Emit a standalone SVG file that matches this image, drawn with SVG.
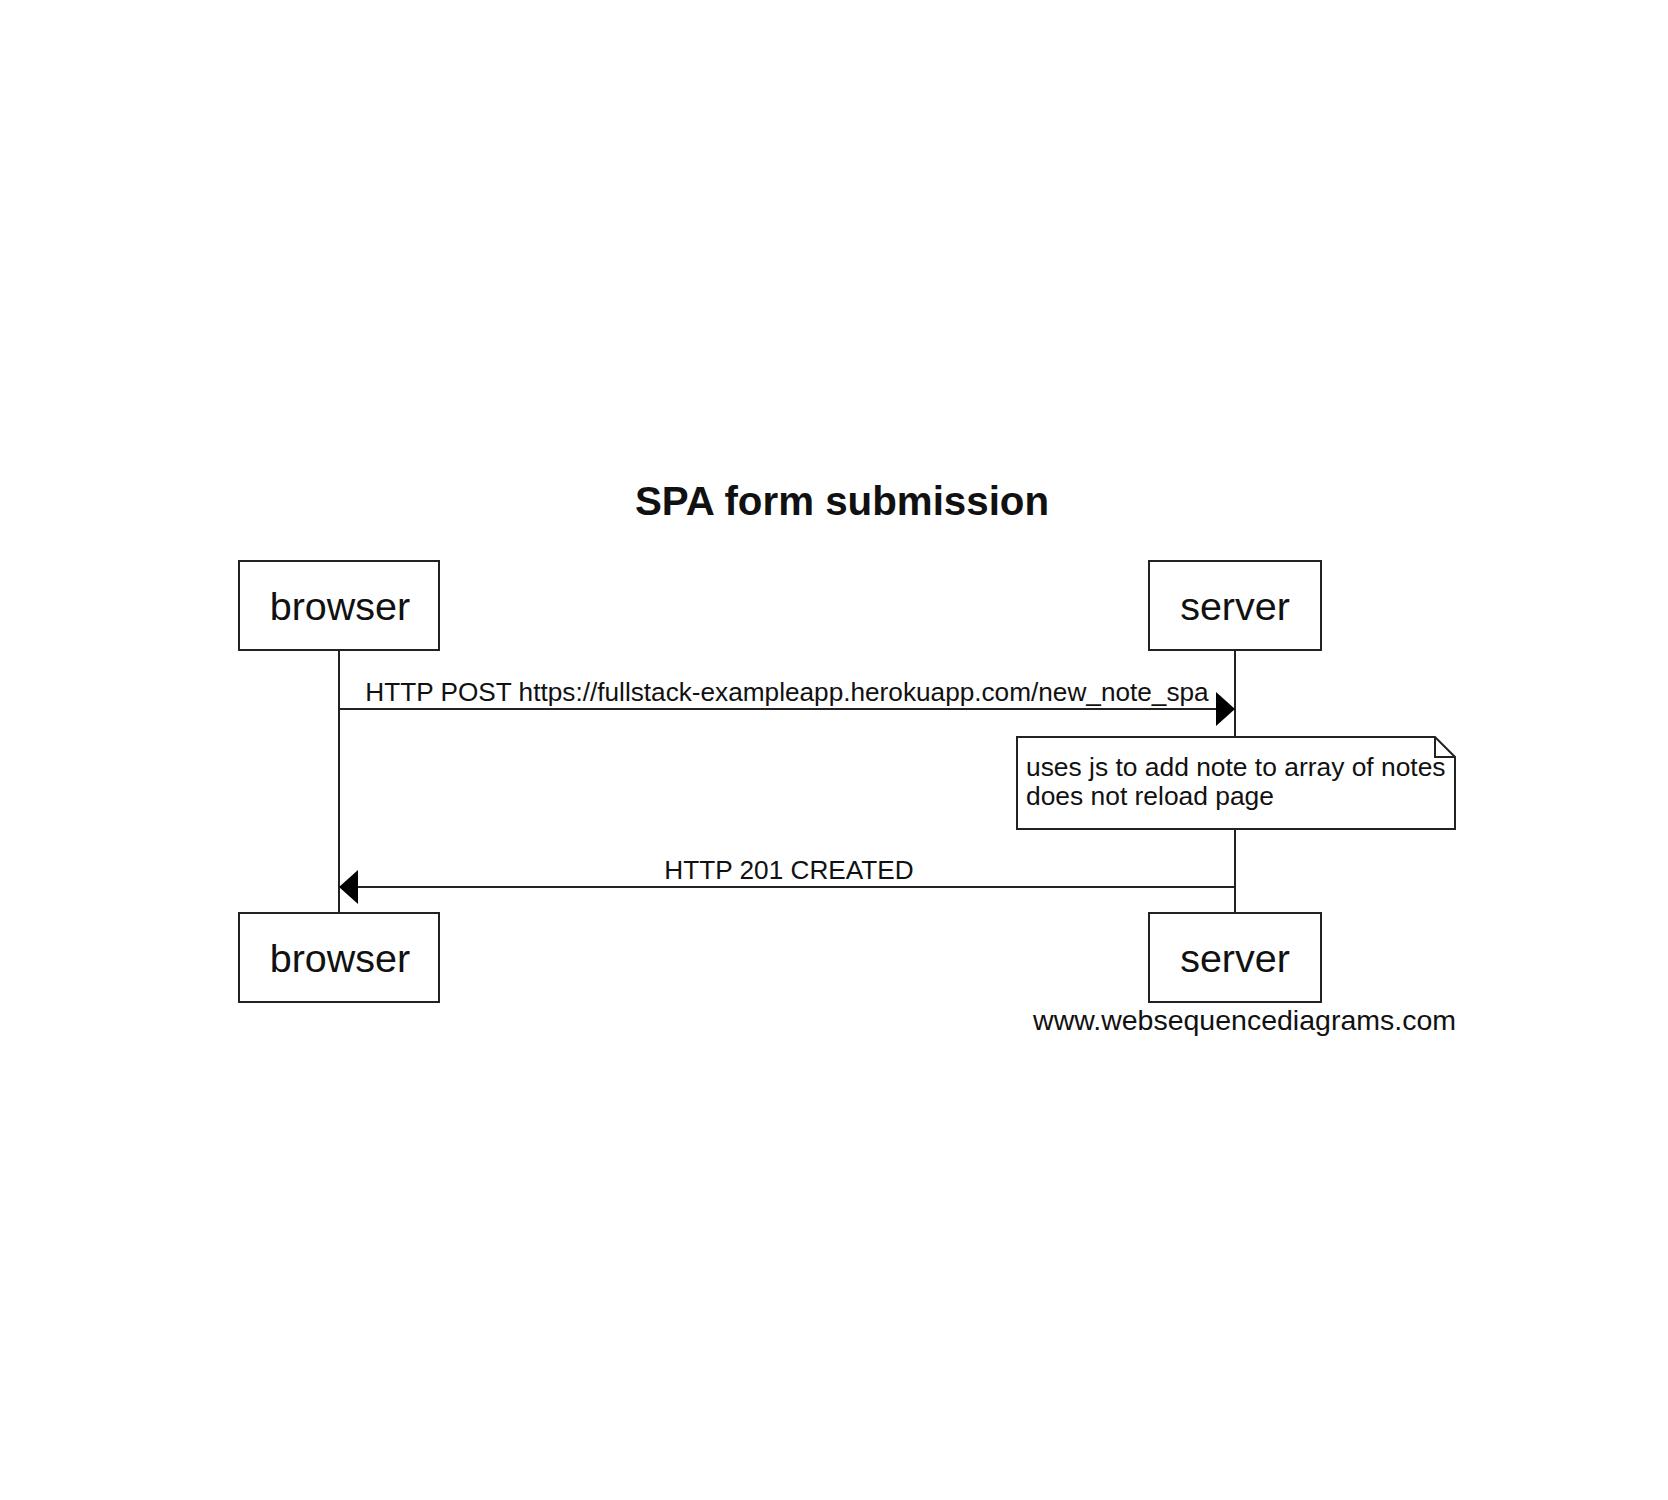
<svg xmlns="http://www.w3.org/2000/svg" width="1668" height="1500" viewBox="0 0 1668 1500">
<defs>
<style>
.t{font-family:"Liberation Sans",Arial,sans-serif;fill:#111}
.box{fill:#fff;stroke:#222;stroke-width:2}
.ln{fill:none;stroke:#222;stroke-width:2}
.ah{fill:#000;stroke:none}
</style>
</defs>
<rect x="0" y="0" width="1668" height="1500" fill="#fff"/>
<text class="t" x="842" y="515" font-size="40.3" font-weight="bold" text-anchor="middle">SPA form submission</text>
<g id="lifelines">
<line class="ln" x1="339" y1="650" x2="339" y2="913"/>
<line class="ln" x1="1235" y1="650" x2="1235" y2="913"/>
</g>
<g id="connectors">
<line class="ln" x1="339" y1="709" x2="1218" y2="709"/>
<polygon class="ah" points="1235,709 1216,692 1216,726"/>
<text class="t" x="787" y="701" font-size="26.2" text-anchor="middle">HTTP POST https://fullstack-exampleapp.herokuapp.com/new_note_spa</text>
<line class="ln" x1="1235" y1="887" x2="356" y2="887"/>
<polygon class="ah" points="339,887 358,870 358,904"/>
<text class="t" x="789" y="879" font-size="26.2" text-anchor="middle">HTTP 201 CREATED</text>
</g>
<g id="browser-top">
<rect class="box" x="239" y="561" width="200" height="89"/>
<text class="t" x="340" y="620" font-size="39.5" text-anchor="middle">browser</text>
</g>
<g id="server-top">
<rect class="box" x="1149" y="561" width="172" height="89"/>
<text class="t" x="1235" y="620" font-size="39.5" text-anchor="middle">server</text>
</g>
<g id="note">
<path class="box" d="M1017,737 H1435 L1455,757 V829 H1017 Z"/>
<path class="ln" d="M1435,737 V757 H1455"/>
<text class="t" x="1026" y="776" font-size="26.4">uses js to add note to array of notes</text>
<text class="t" x="1026" y="805" font-size="26.4">does not reload page</text>
</g>
<g id="browser-bottom">
<rect class="box" x="239" y="913" width="200" height="89"/>
<text class="t" x="340" y="972" font-size="39.5" text-anchor="middle">browser</text>
</g>
<g id="server-bottom">
<rect class="box" x="1149" y="913" width="172" height="89"/>
<text class="t" x="1235" y="972" font-size="39.5" text-anchor="middle">server</text>
</g>
<text class="t" x="1456" y="1030" font-size="28.5" text-anchor="end">www.websequencediagrams.com</text>
</svg>
